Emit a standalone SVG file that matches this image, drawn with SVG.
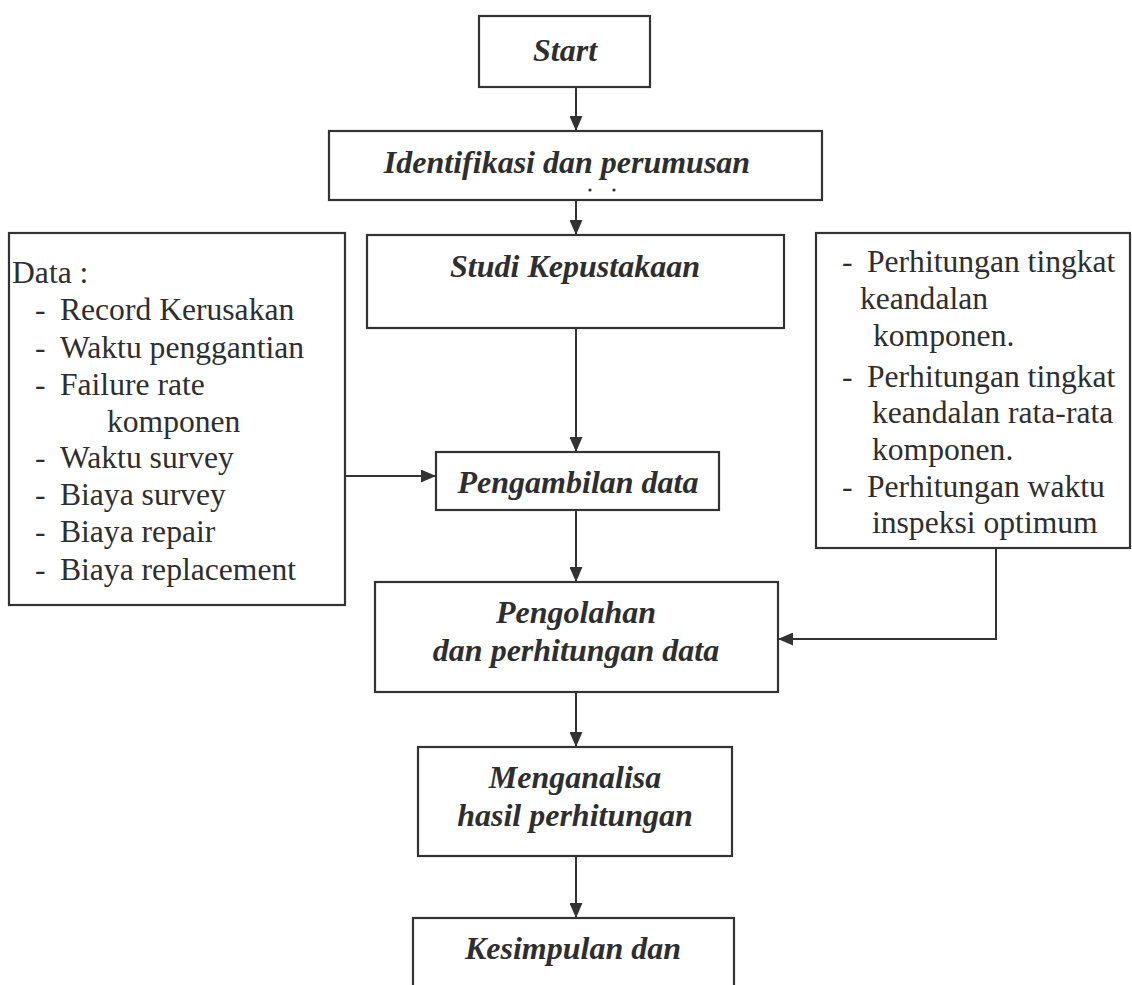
<svg xmlns="http://www.w3.org/2000/svg" width="1132" height="985" viewBox="0 0 1132 985">
  <style>
    .box { fill: #ffffff; stroke: #333333; stroke-width: 2.2; }
    .step { font-family: "Liberation Serif", "Times New Roman", serif; font-size: 32px; font-weight: bold; font-style: italic; fill: #2e2e2e; text-anchor: middle; }
    .note { font-family: "Liberation Serif", "Times New Roman", serif; font-size: 31px; fill: #2e2e2e; }
    .link { fill: none; stroke: #333333; stroke-width: 2; }
  </style>
  <defs>
    <marker id="arrow" viewBox="0 0 15 13" refX="15" refY="6.5" markerWidth="15" markerHeight="13" markerUnits="userSpaceOnUse" orient="auto">
      <path d="M0,0 L15,6.5 L0,13 Z" fill="#333333"/>
    </marker>
  </defs>
  <rect width="1132" height="985" fill="#ffffff"/>

  <!-- connectors -->
  <g id="connectors">
    <line class="link" x1="576" y1="87" x2="576" y2="131" marker-end="url(#arrow)"/>
    <line class="link" x1="576" y1="200" x2="576" y2="235" marker-end="url(#arrow)"/>
    <line class="link" x1="576" y1="328" x2="576" y2="452" marker-end="url(#arrow)"/>
    <line class="link" x1="338" y1="476" x2="436" y2="476" marker-end="url(#arrow)"/>
    <line class="link" x1="576" y1="510" x2="576" y2="582" marker-end="url(#arrow)"/>
    <polyline class="link" points="996,548 996,639 778,639" marker-end="url(#arrow)"/>
    <line class="link" x1="576" y1="692" x2="576" y2="747" marker-end="url(#arrow)"/>
    <line class="link" x1="576" y1="856" x2="576" y2="918" marker-end="url(#arrow)"/>
  </g>

  <!-- main flow -->
  <g id="start">
    <rect class="box" x="479" y="16" width="171" height="71"/>
    <text class="step" x="565" y="61">Start</text>
  </g>

  <g id="identifikasi">
    <rect class="box" x="329" y="131" width="493" height="69"/>
    <text class="step" x="567" y="173">Identifikasi dan perumusan</text>
    <circle cx="590" cy="190" r="1.6" fill="#2e2e2e"/>
    <circle cx="614" cy="190" r="1.6" fill="#2e2e2e"/>
  </g>

  <g id="studi">
    <rect class="box" x="367" y="235" width="417" height="93"/>
    <text class="step" x="575" y="277">Studi Kepustakaan</text>
  </g>

  <g id="pengambilan">
    <rect class="box" x="436" y="452" width="283" height="58"/>
    <text class="step" x="578" y="493">Pengambilan data</text>
  </g>

  <g id="pengolahan">
    <rect class="box" x="375" y="582" width="403" height="110"/>
    <text class="step" x="576" y="623">Pengolahan</text>
    <text class="step" x="576" y="661">dan perhitungan data</text>
  </g>

  <g id="menganalisa">
    <rect class="box" x="418" y="747" width="314" height="109"/>
    <text class="step" x="575" y="788">Menganalisa</text>
    <text class="step" x="575" y="826">hasil perhitungan</text>
  </g>

  <g id="kesimpulan">
    <rect class="box" x="413" y="918" width="321" height="80"/>
    <text class="step" x="573" y="959">Kesimpulan dan</text>
  </g>

  <!-- input data list -->
  <g id="data">
    <rect class="box" x="9" y="233" width="336" height="372"/>
    <g class="note" transform="scale(1.02,1)">
      <text x="11.8" y="283">Data :</text>
      <text x="34.3" y="320">-</text><text x="58.8" y="320">Record Kerusakan</text>
      <text x="34.3" y="358">-</text><text x="58.8" y="358">Waktu penggantian</text>
      <text x="34.3" y="395">-</text><text x="58.8" y="395">Failure rate</text>
      <text x="104.9" y="432">komponen</text>
      <text x="34.3" y="468">-</text><text x="58.8" y="468">Waktu survey</text>
      <text x="34.3" y="505">-</text><text x="58.8" y="505">Biaya survey</text>
      <text x="34.3" y="542">-</text><text x="58.8" y="542">Biaya repair</text>
      <text x="34.3" y="580">-</text><text x="58.8" y="580">Biaya replacement</text>
    </g>
  </g>

  <!-- calculation list -->
  <g id="perhitungan">
    <rect class="box" x="816" y="233" width="314" height="315"/>
    <g class="note" transform="scale(1.02,1)">
      <text x="825.5" y="272">-</text><text x="850" y="272">Perhitungan tingkat</text>
      <text x="843.1" y="309">keandalan</text>
      <text x="855.9" y="346">komponen.</text>
      <text x="825.5" y="387">-</text><text x="850" y="387">Perhitungan tingkat</text>
      <text x="854.9" y="423">keandalan rata-rata</text>
      <text x="854.9" y="460">komponen.</text>
      <text x="825.5" y="497">-</text><text x="850" y="497">Perhitungan waktu</text>
      <text x="854.9" y="533">inspeksi optimum</text>
    </g>
  </g>
</svg>
